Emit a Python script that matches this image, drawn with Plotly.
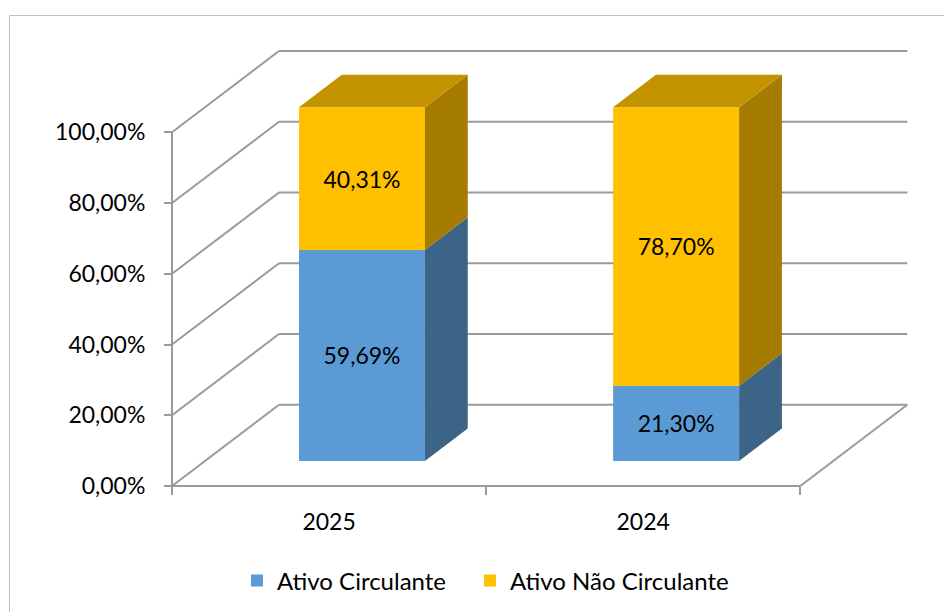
import plotly.graph_objects as go

# ---------------- data ----------------
categories = ["2025", "2024"]
series_names = ["Ativo Circulante", "Ativo Não Circulante"]
ativo_circulante = [59.69, 21.30]
ativo_nao_circulante = [40.31, 78.70]
label_circulante = ["59,69%", "21,30%"]
label_nao_circulante = ["40,31%", "78,70%"]
y_tick_values = [0, 20, 40, 60, 80, 100]
y_tick_labels = ["0,00%", "20,00%", "40,00%", "60,00%", "80,00%", "100,00%"]

# ---------------- styling / geometry ----------------
OFF = 8                      # page body margin of the html page
W, H = 952 - OFF, 612 - OFF  # figure size so that it fits the window
FONT = "Lato, 'Open Sans', sans-serif"
FS = 23
GRID = "#9A9A9A"
C_BLUE, C_BLUE_SIDE = "#5B9BD5", "#3B6486"
C_YEL, C_YEL_SIDE, C_YEL_TOP = "#FFC000", "#A57C00", "#C49400"

FRONT_LEFT_PX = 172.0 - OFF      # front-left corner of the floor
CAT_PX = 314.15                  # width of one category on the front plane
FRONT_ZERO_PX = 486.0 - OFF      # 0 % on the front plane (from top)
PX_PER_UNIT = 3.537              # pixels per percentage point
DEPTH_PX = (107.0, 81.3)         # full depth of the chart in pixels (right, up)

DX = DEPTH_PX[0] / CAT_PX
DY = DEPTH_PX[1] / PX_PER_UNIT
x_range = [-0.5 - FRONT_LEFT_PX / CAT_PX, -0.5 + (W - FRONT_LEFT_PX) / CAT_PX]
y_range = [-(H - FRONT_ZERO_PX) / PX_PER_UNIT, FRONT_ZERO_PX / PX_PER_UNIT]

BAR_FRONT = 0.3075   # depth fraction of the bar front face
BAR_DEPTH = 0.40     # depth fraction of the bar
BAR_W = 0.401        # bar width in category units

n = len(categories)
x_left, x_right = -0.5, n - 0.5
tops = max(y_tick_values)

shapes = []
line = dict(color=GRID, width=2)
# back wall gridlines + side wall diagonals
for v in y_tick_values:
    shapes.append(dict(type="line", xref="x", yref="y", layer="below",
                       x0=x_left + DX, y0=v + DY, x1=x_right + DX, y1=v + DY, line=line))
    shapes.append(dict(type="line", xref="x", yref="y", layer="below",
                       x0=x_left, y0=v, x1=x_left + DX, y1=v + DY, line=line))
# front axis and floor
shapes.append(dict(type="line", xref="x", yref="y", layer="below",
                   x0=x_left, y0=0, x1=x_left, y1=tops, line=line))
shapes.append(dict(type="line", xref="x", yref="y", layer="below",
                   x0=x_left, y0=0, x1=x_right, y1=0, line=line))
shapes.append(dict(type="line", xref="x", yref="y", layer="below",
                   x0=x_right, y0=0, x1=x_right + DX, y1=DY, line=line))
# outer chart border
shapes.append(dict(type="rect", xref="paper", yref="paper", layer="below",
                   x0=(9.5 - OFF) / W, x1=1.05, y0=-0.05, y1=(H - (15.5 - OFF)) / H,
                   line=dict(color="#BFBFBF", width=1)))

fig = go.Figure()

fx = BAR_FRONT * DX
fy = BAR_FRONT * DY
bx = BAR_DEPTH * DX
by = BAR_DEPTH * DY
xc = [i + fx for i in range(n)]

base_nao = [fy + a for a in ativo_circulante]

fig.add_trace(go.Bar(
    x=xc, y=ativo_circulante, base=[fy] * n, width=BAR_W,
    name=series_names[0], marker=dict(color=C_BLUE, line=dict(width=0)),
    text=label_circulante, textposition="inside", insidetextanchor="middle",
    textangle=0, insidetextfont=dict(family=FONT, size=FS, color="black"),
    legendwidth=188, hoverinfo="skip"))
fig.add_trace(go.Bar(
    x=xc, y=ativo_nao_circulante, base=base_nao, width=BAR_W,
    name=series_names[1], marker=dict(color=C_YEL, line=dict(width=0)),
    text=label_nao_circulante, textposition="inside", insidetextanchor="middle",
    textangle=0, insidetextfont=dict(family=FONT, size=FS, color="black"),
    hoverinfo="skip"))


def poly(xs, ys, color):
    fig.add_trace(go.Scatter(
        x=xs + [xs[0]], y=ys + [ys[0]], mode="lines", fill="toself",
        fillcolor=color, line=dict(width=0, color=color),
        showlegend=False, hoverinfo="skip"))


for i in range(n):
    xr = xc[i] + BAR_W / 2
    xl = xc[i] - BAR_W / 2
    segs = [(fy, fy + ativo_circulante[i], C_BLUE_SIDE),
            (base_nao[i], base_nao[i] + ativo_nao_circulante[i], C_YEL_SIDE)]
    for b, t, col in segs:
        poly([xr, xr + bx, xr + bx, xr], [b, b + by, t + by, t], col)
    top = base_nao[i] + ativo_nao_circulante[i]
    poly([xl, xr, xr + bx, xl + bx], [top, top, top + by, top + by], C_YEL_TOP)

LEG_TEXT_X = 277 - OFF     # where the first legend text starts
LEG_Y = 581 - OFF

fig.update_layout(
    width=W, height=H,
    margin=dict(l=0, r=0, t=0, b=0),
    paper_bgcolor="white", plot_bgcolor="white",
    barmode="overlay",
    font=dict(family=FONT, size=FS, color="black"),
    shapes=shapes,
    showlegend=True,
    legend=dict(orientation="h", x=(LEG_TEXT_X - 40) / W, xanchor="left",
                y=(H - LEG_Y) / H, yanchor="middle",
                font=dict(family=FONT, size=24, color="black"),
                bgcolor="rgba(0,0,0,0)", traceorder="normal"),
    xaxis=dict(range=x_range, domain=[0, 1], anchor="free", position=(H - FRONT_ZERO_PX) / H,
               tickmode="array", tickvals=list(range(n)), ticktext=categories,
               ticks="", ticklen=0, ticklabelstandoff=20,
               minor=dict(tickvals=[x_left + k for k in range(n + 1)], ticks="outside",
                          ticklen=8, tickwidth=2, tickcolor=GRID, showgrid=False),
               showgrid=False, zeroline=False, showline=False, automargin=False,
               fixedrange=True),
    yaxis=dict(range=y_range, domain=[0, 1], anchor="free", position=FRONT_LEFT_PX / W,
               tickmode="array", tickvals=y_tick_values, ticktext=y_tick_labels,
               ticks="outside", ticklen=8, tickwidth=2, tickcolor=GRID,
               ticklabelstandoff=14,
               showgrid=False, zeroline=False, showline=False, automargin=False,
               fixedrange=True),
)

fig.write_html("out.html")
